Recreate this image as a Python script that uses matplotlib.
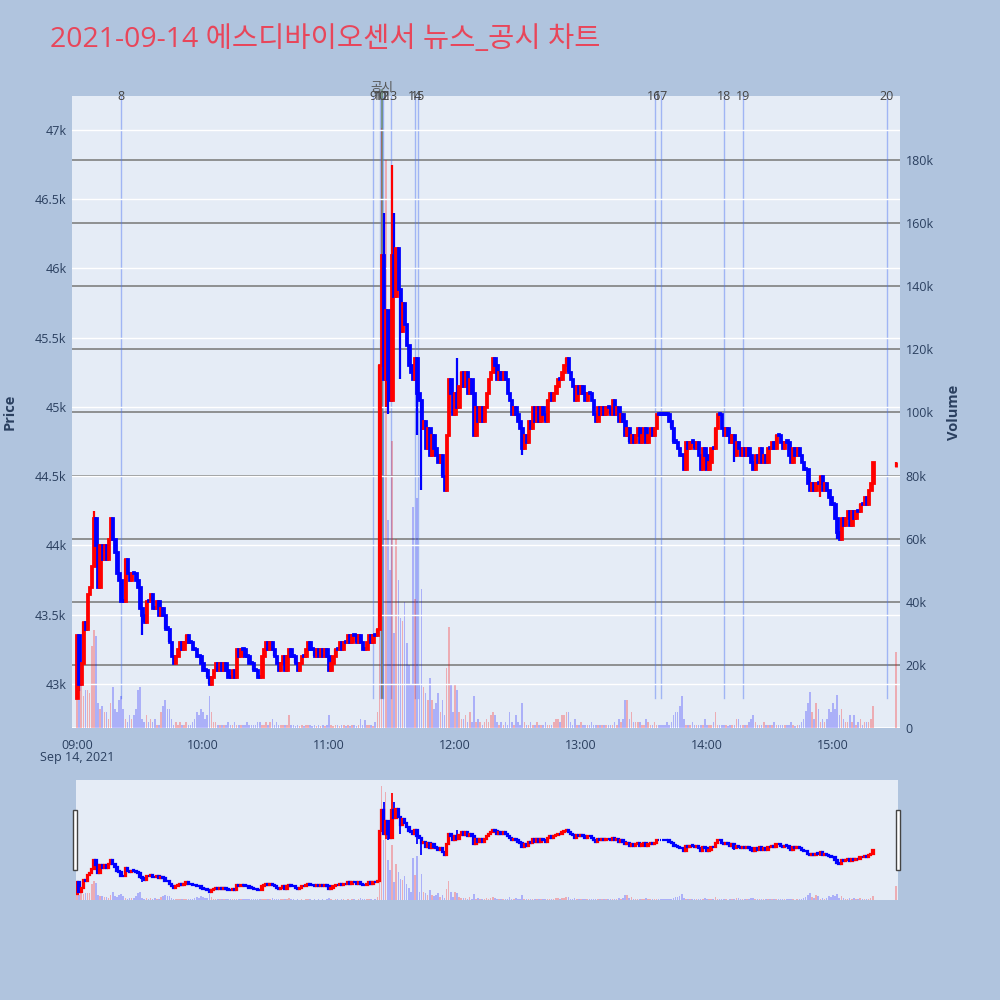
import matplotlib
matplotlib.use("Agg")
import matplotlib.pyplot as plt
import matplotlib.transforms as mtrans
from matplotlib.patches import Rectangle
import numpy as np

plt.rcParams['font.family'] = ['Open Sans', 'Noto Sans CJK KR', 'DejaVu Sans']

TITLE = "2021-09-14 에스디바이오센서 뉴스_공시 차트"

# ---- minute candles, 09:00 .. 15:19 (index = minutes after 09:00) ----
first_open = 42900
closes = [
    43350, 43000, 43150, 43450, 43400, 43650, 43700, 43850, 44200, 44000, 43700, 44000, 43900, 44000, 43900, 44050, 44200, 44050, 43950, 43800,
    43750, 43600, 43600, 43900, 43800, 43750, 43800, 43800, 43750, 43700, 43550, 43500, 43450, 43600, 43600, 43650, 43550, 43550, 43600, 43500,
    43550, 43500, 43400, 43400, 43300, 43200, 43150, 43200, 43250, 43300, 43250, 43300, 43350, 43300, 43300, 43250, 43250, 43200, 43200, 43150,
    43100, 43100, 43050, 43000, 43050, 43100, 43150, 43100, 43150, 43100, 43150, 43100, 43050, 43050, 43100, 43050, 43250, 43200, 43250, 43250,
    43200, 43200, 43150, 43150, 43100, 43100, 43050, 43050, 43200, 43250, 43300, 43250, 43300, 43250, 43200, 43150, 43100, 43150, 43200, 43100,
    43200, 43250, 43200, 43200, 43150, 43100, 43150, 43200, 43200, 43250, 43300, 43250, 43250, 43200, 43250, 43200, 43250, 43200, 43250, 43200,
    43100, 43150, 43200, 43250, 43250, 43300, 43250, 43300, 43300, 43350, 43300, 43350, 43350, 43300, 43350, 43300, 43250, 43250, 43300, 43350,
    43300, 43350, 43350, 43400, 45300, 46100, 45200, 45700, 45200, 45050, 46100, 45800, 46150, 45850, 45550, 45750, 45600, 45450, 45300, 45250,
    45200, 45350, 45100, 45050, 44850, 44900, 44700, 44850, 44650, 44800, 44700, 44650, 44600, 44650, 44500, 44400, 44800, 45200, 45100, 44950,
    45100, 45000, 45150, 45250, 45150, 45250, 45100, 45200, 45100, 44800, 45000, 44900, 45000, 44900, 45000, 45100, 45200, 45250, 45350, 45300,
    45200, 45250, 45200, 45250, 45200, 45100, 45050, 44950, 45000, 44950, 44900, 44850, 44700, 44800, 44750, 44900, 44850, 45000, 44900, 45000,
    44900, 45000, 44950, 44900, 45050, 45100, 45050, 45100, 45150, 45200, 45200, 45250, 45300, 45350, 45250, 45200, 45150, 45050, 45150, 45100,
    45150, 45100, 45050, 45100, 45100, 45050, 44950, 44900, 45000, 44950, 45000, 44950, 45000, 45000, 44950, 45050, 44950, 45000, 44900, 44950,
    44900, 44800, 44850, 44750, 44800, 44750, 44800, 44850, 44750, 44800, 44850, 44750, 44800, 44850, 44800, 44850, 44950, 44950, 44950, 44950,
    44950, 44950, 44900, 44850, 44750, 44750, 44700, 44650, 44650, 44550, 44750, 44700, 44750, 44750, 44700, 44750, 44650, 44550, 44700, 44650,
    44550, 44600, 44700, 44700, 44850, 44950, 44950, 44850, 44800, 44850, 44800, 44750, 44800, 44650, 44750, 44700, 44650, 44700, 44650, 44700,
    44650, 44600, 44550, 44650, 44600, 44700, 44600, 44650, 44600, 44700, 44700, 44750, 44700, 44800, 44800, 44750, 44700, 44750, 44750, 44650,
    44600, 44700, 44650, 44700, 44650, 44600, 44550, 44550, 44450, 44400, 44450, 44400, 44450, 44450, 44500, 44400, 44450, 44400, 44350, 44300,
    44300, 44200, 44100, 44050, 44200, 44150, 44200, 44250, 44150, 44250, 44200, 44250, 44250, 44300, 44300, 44350, 44300, 44400, 44450, 44600,
]
# volume per minute, in thousands
volumes_k = [
    10, 9, 16, 10, 12, 12, 11, 26, 31, 29, 8, 6, 7, 5, 5, 3, 8, 13, 6, 5,
    9, 10, 6, 3, 2, 4, 3, 4, 6, 12, 13, 3, 2, 4, 2, 3, 2, 3, 1, 1,
    5, 7, 9, 6, 6, 3, 1, 2, 1, 2, 1, 1, 2, 1, 1, 2, 3, 5, 4, 6,
    5, 3, 4, 10, 5, 2, 2, 1, 1, 1, 1, 1, 2, 1, 1, 2, 1, 1, 1, 1,
    1, 2, 1, 1, 1, 1, 2, 2, 1, 1, 2, 1, 2, 3, 1, 2, 1, 1, 1, 1,
    1, 4, 1, 1, 0.5, 1, 0.5, 1, 0.5, 1, 1, 1, 0.5, 1, 0.5, 1, 0.5, 1, 0.5, 1,
    4, 1, 0.5, 1, 1, 0.5, 1, 1, 0.5, 1, 0.5, 1, 1, 0.5, 1, 3, 1, 2.5, 1, 1,
    1, 0.5, 2, 5, 60, 190, 100, 180, 66, 50, 91, 30, 60, 47, 35, 34, 40, 27, 20, 14,
    70, 41, 73, 14, 44, 13, 11, 9, 16, 9, 6, 8, 11, 5, 9, 4, 19, 32, 14, 5,
    14, 12, 5, 3, 3, 4, 2, 5, 2, 10, 2, 3, 2, 1, 2, 3, 2, 4, 5, 4,
    2, 1, 2, 1, 2, 1, 5, 2, 1, 4, 2, 1, 8, 2, 1, 1, 2, 1, 1, 2,
    1, 1, 1, 2, 1, 1, 1, 2, 3, 3, 2, 4, 4, 5, 5, 2, 1, 3, 1, 1,
    2, 1, 1, 1, 1, 2, 1, 1, 1, 1, 1, 1, 1, 1, 1, 1, 2, 1, 3, 2,
    3, 9, 9, 3, 5, 2, 2, 2, 2, 1, 1, 3, 2, 1, 1, 2, 1, 1, 1, 1,
    1, 2, 1, 2, 4, 5, 5, 7, 10, 3, 1, 1, 1, 2, 1, 1, 1, 1, 1, 3,
    1, 1, 1, 2, 5, 1, 1, 1, 1, 1, 0.5, 1, 1, 1, 3, 3, 1, 1, 1, 1,
    2, 3, 4, 2, 1, 1, 1, 2, 1, 1, 1, 1, 2, 1, 1, 1, 1, 1, 1, 1,
    2, 1, 0.5, 1, 1, 2, 3, 5.5, 8, 11.5, 5, 3, 8, 6, 2, 3, 2, 3, 6, 5,
    8, 6, 10.5, 4, 6, 3, 2, 2, 4, 2, 4, 1, 2, 3, 1, 2, 2, 2, 3, 7,
]
# wicks that reach past the candle body
hi_min = [8, 146, 150, 151, 181, 233]
hi_val = [44250, 46400, 46750, 46400, 45350, 45350]
lo_min = [1, 31, 64, 147, 148, 154, 162, 164, 212, 290, 313, 354, 362]
lo_val = [42950, 43350, 43000, 45000, 44950, 45200, 44800, 44400, 44650, 44550, 44600, 44350, 44050]
# 15:30 closing auction
auction_min, auction_open, auction_close, auction_vol_k = 390, 44570, 44600, 24

# news / disclosure markers (minutes after 09:00)
news_min = [21, 141.1, 144.3, 145.2, 145.8, 149.4, 161, 162.5, 275, 278, 308, 317, 385.6]
news_lab = ["8", "9", "10", "11", "12", "13", "14", "15", "16", "17", "18", "19", "20"]
disc_min = 145.2

hour_pos = [0, 60, 120, 180, 240, 300, 360]
hour_lab = ["09:00", "10:00", "11:00", "12:00", "13:00", "14:00", "15:00"]
price_ticks = [43000, 43500, 44000, 44500, 45000, 45500, 46000, 46500, 47000]
price_labs = ["43k", "43.5k", "44k", "44.5k", "45k", "45.5k", "46k", "46.5k", "47k"]
vol_ticks = [0, 20, 40, 60, 80, 100, 120, 140, 160, 180]
vol_labs = ["0", "20k", "40k", "60k", "80k", "100k", "120k", "140k", "160k", "180k"]

BG, PLOT_BG, TXT = "#B0C4DE", "#E5ECF6", "#2a3f5f"
UP, DOWN = "#FF0000", "#0000FF"
P_LIM, V_LIM = (42682, 47245), (0, 200.3)

m = np.append(np.arange(len(closes)), auction_min)
c = np.array(closes + [auction_close], float)
o = np.array([first_open] + closes[:-1] + [auction_open], float)
h = np.maximum(o, c)
l = np.minimum(o, c)
for k, v in zip(hi_min, hi_val):
    h[k] = max(h[k], v)
for k, v in zip(lo_min, lo_val):
    l[k] = min(l[k], v)
vol = np.array(volumes_k + [auction_vol_k], float)
up = c > o
col = np.where(up, UP, DOWN)
vcol = [(1, 0, 0, 0.27) if u else (0, 0, 1, 0.25) for u in up]
# flat candles still get a visible body, like plotly
body_bot = np.minimum(o, c)
body_h = np.maximum(np.abs(c - o), 8)
body_w = np.where(m == auction_min, 0.3, 0.7)


def draw(axv, axp, lw=2.0):
    axv.bar(m, vol, width=0.75, color=vcol, linewidth=0, zorder=2)
    axp.vlines(m, l, h, colors=col, lw=lw * 0.8, zorder=3)
    axp.bar(m, body_h, bottom=body_bot, width=body_w, color=col, edgecolor=col,
            linewidth=lw, zorder=4)
    for a in (axv, axp):
        for s in a.spines.values():
            s.set_visible(False)


fig = plt.figure(figsize=(10, 10), dpi=100, facecolor=BG)

# ---------- main chart ----------
ax = fig.add_axes([0.072, 0.272, 0.828, 0.632], facecolor=PLOT_BG)
axp = ax.twinx()
ax.yaxis.tick_right()
axp.yaxis.tick_left()
ax.set_xlim(-2.4, 391.9)
ax.set_ylim(*V_LIM)
axp.set_ylim(*P_LIM)

for v in vol_ticks[1:]:
    ax.axhline(v, color="#808080", lw=1.2, zorder=0.5)
ax.axhline(0, color="white", lw=2, zorder=0.6)
for p in price_ticks:
    axp.axhline(p, color="white", lw=1, zorder=0.5)

blend = mtrans.blended_transform_factory(ax.transData, ax.transAxes)
for x, lab in zip(news_min, news_lab):
    ax.axvline(x, ymin=0.047, ymax=1, color=(0.3, 0.45, 0.95, 0.45), lw=1.0, zorder=1)
    ax.text(x, 1.0, lab, transform=blend, ha="center", va="center", fontsize=9,
            color="#444444", clip_on=False, zorder=10)
ax.axvline(disc_min, ymin=0.047, ymax=1.01, color="#6B8C77", lw=1.2, zorder=1.5, clip_on=False)
ax.text(disc_min, 1.013, "공시", transform=blend, ha="center", va="center", fontsize=9,
        color="#555555", family=["Noto Sans CJK KR"], clip_on=False, zorder=10)

draw(ax, axp)

axp.set_yticks(price_ticks)
axp.set_yticklabels(price_labs)
ax.set_yticks(vol_ticks)
ax.set_yticklabels(vol_labs)
ax.set_xticks(hour_pos)
ax.set_xticklabels(hour_lab)
for a in (ax, axp):
    a.tick_params(length=0, labelsize=9, labelcolor=TXT, pad=4)
ax.tick_params(axis="x", pad=8)

fig.text(0.077, 0.243, "Sep 14, 2021", ha="center", va="center", fontsize=9, color=TXT)
fig.text(0.010, 0.588, "Price", rotation=90, ha="center", va="center", fontsize=10.5,
         fontweight="bold", color=TXT)
fig.text(0.954, 0.588, "Volume", rotation=90, ha="center", va="center", fontsize=10.5,
         fontweight="bold", color=TXT)
fig.text(0.05, 0.96, TITLE, ha="left", va="center", fontsize=20.5, color="#E8465A",
         family=["Open Sans", "Noto Sans CJK KR"])

# ---------- range slider ----------
sax = fig.add_axes([0.076, 0.10, 0.822, 0.12], facecolor=PLOT_BG)
saxp = sax.twinx()
sax.set_xlim(-0.5, 391)
sax.set_ylim(*V_LIM)
saxp.set_ylim(*P_LIM)
draw(sax, saxp, lw=1.6)
for a in (sax, saxp):
    a.set_xticks([])
    a.set_yticks([])

for x0 in (0.0728, 0.8958):
    fig.patches.append(Rectangle((x0, 0.13), 0.0042, 0.06, transform=fig.transFigure,
                                 facecolor="white", edgecolor="#444444", lw=1, zorder=10))

fig.savefig("out.png", dpi=100, facecolor=BG)
